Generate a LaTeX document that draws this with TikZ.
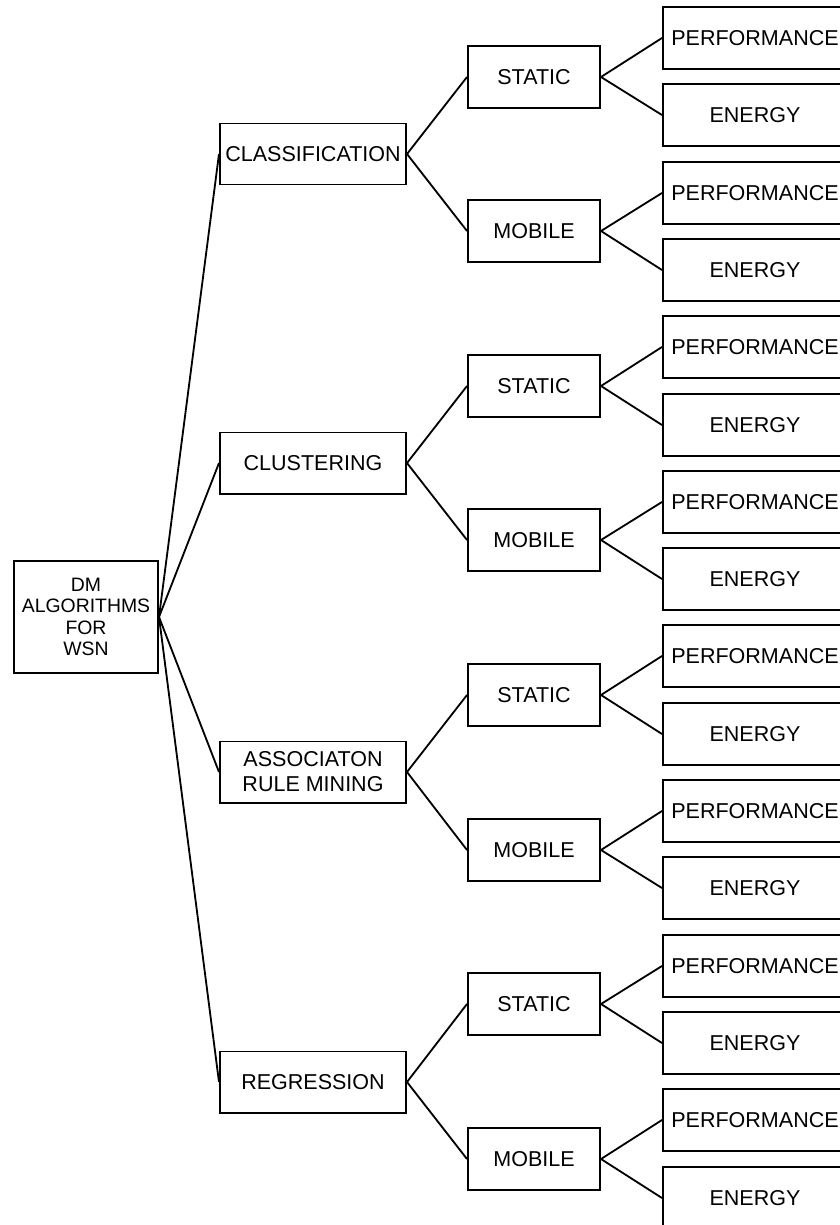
\documentclass[tikz,border=0pt]{standalone}
\usepackage{fontspec}
\setmainfont{Liberation Sans}
\usetikzlibrary{positioning}

\begin{document}
\begin{tikzpicture}[
  x=0.025cm, y=-0.025cm,
  font=\fontsize{15.3}{17.8}\selectfont,
  rootbox/.style={draw, line width=1.4pt, align=center, inner sep=0pt,
                  minimum width=3.6cm, minimum height=2.8cm,
                  font=\fontsize{13.8}{15.3}\selectfont},
  algbox/.style={draw, line width=1.4pt, align=center, inner sep=0pt,
                 minimum width=4.65cm, minimum height=1.525cm},
  modebox/.style={draw, line width=1.4pt, align=center, inner sep=0pt,
                  minimum width=3.3cm, minimum height=1.55cm},
  leafbox/.style={draw, line width=1.4pt, align=center, inner sep=0pt,
                  minimum width=4.6cm, minimum height=1.55cm},
  edge/.style={draw, line width=1.3pt}
]
\useasboundingbox (0,0) rectangle (840,1225);
\clip (0,0) rectangle (840,1225);

\node[rootbox] (root) at (86,617) {DM\\ALGORITHMS\\FOR\\WSN};

% algorithms
\node[algbox] (cls) at (313,154) {CLASSIFICATION};
\node[algbox] (clu) at (313,463) {CLUSTERING};
\node[algbox] (arm) at (313,772) {ASSOCIATON\\RULE MINING};
\node[algbox] (reg) at (313,1082) {REGRESSION};
\draw[edge] (root.east) -- (cls.west);
\draw[edge] (root.east) -- (clu.west);
\draw[edge] (root.east) -- (arm.west);
\draw[edge] (root.east) -- (reg.west);

% static / mobile
\node[modebox] (cls-s) at (534,77) {STATIC};
\node[modebox] (cls-m) at (534,231) {MOBILE};
\node[modebox] (clu-s) at (534,386) {STATIC};
\node[modebox] (clu-m) at (534,540) {MOBILE};
\node[modebox] (arm-s) at (534,695) {STATIC};
\node[modebox] (arm-m) at (534,850) {MOBILE};
\node[modebox] (reg-s) at (534,1004) {STATIC};
\node[modebox] (reg-m) at (534,1159) {MOBILE};
\draw[edge] (cls.east) -- (cls-s.west);
\draw[edge] (cls.east) -- (cls-m.west);
\draw[edge] (clu.east) -- (clu-s.west);
\draw[edge] (clu.east) -- (clu-m.west);
\draw[edge] (arm.east) -- (arm-s.west);
\draw[edge] (arm.east) -- (arm-m.west);
\draw[edge] (reg.east) -- (reg-s.west);
\draw[edge] (reg.east) -- (reg-m.west);

% performance / energy
\node[leafbox] (cls-s-p) at (755,38) {PERFORMANCE};
\node[leafbox] (cls-s-e) at (755,115) {ENERGY};
\node[leafbox] (cls-m-p) at (755,193) {PERFORMANCE};
\node[leafbox] (cls-m-e) at (755,270) {ENERGY};
\node[leafbox] (clu-s-p) at (755,347) {PERFORMANCE};
\node[leafbox] (clu-s-e) at (755,425) {ENERGY};
\node[leafbox] (clu-m-p) at (755,502) {PERFORMANCE};
\node[leafbox] (clu-m-e) at (755,579) {ENERGY};
\node[leafbox] (arm-s-p) at (755,656) {PERFORMANCE};
\node[leafbox] (arm-s-e) at (755,734) {ENERGY};
\node[leafbox] (arm-m-p) at (755,811) {PERFORMANCE};
\node[leafbox] (arm-m-e) at (755,888) {ENERGY};
\node[leafbox] (reg-s-p) at (755,966) {PERFORMANCE};
\node[leafbox] (reg-s-e) at (755,1043) {ENERGY};
\node[leafbox] (reg-m-p) at (755,1120) {PERFORMANCE};
\node[leafbox] (reg-m-e) at (755,1198) {ENERGY};
\foreach \m in {cls-s,cls-m,clu-s,clu-m,arm-s,arm-m,reg-s,reg-m}{
  \draw[edge] (\m.east) -- (\m-p.west);
  \draw[edge] (\m.east) -- (\m-e.west);
}
\end{tikzpicture}
\end{document}
